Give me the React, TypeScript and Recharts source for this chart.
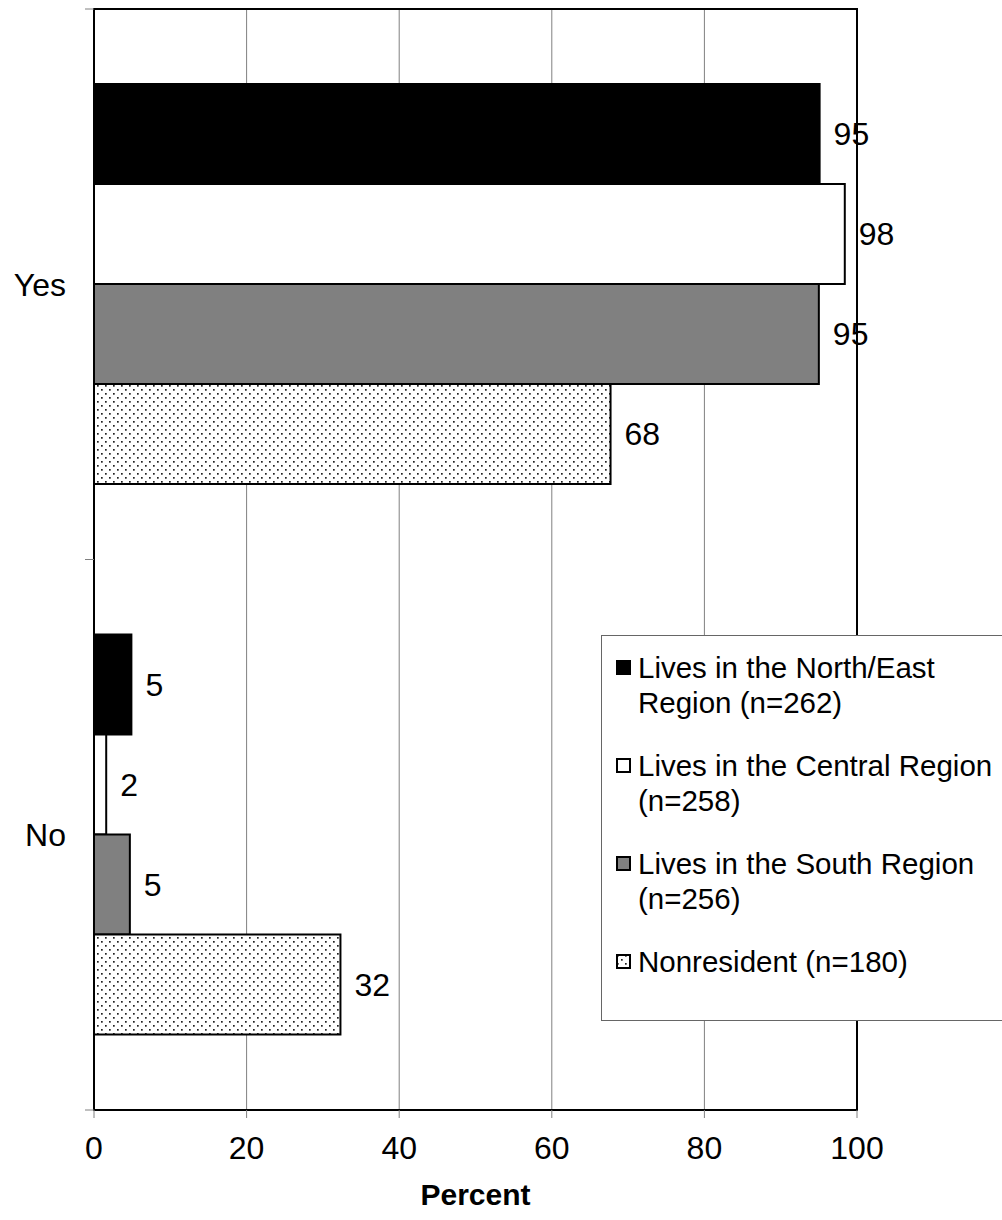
import React from "react"
import {
  BarChart,
  Bar,
  XAxis,
  YAxis,
  CartesianGrid,
  Legend,
  LabelList,
  ReferenceArea,
} from "recharts"

const categories = ["Yes", "No"]
const northEast = [95.1, 4.9]
const central = [98.4, 1.6]
const south = [95.0, 4.7]
const nonresident = [67.7, 32.3]
const xTicks = [0, 20, 40, 60, 80, 100]

const seriesNames = [
  "Lives in the North/East Region (n=262)",
  "Lives in the Central Region (n=258)",
  "Lives in the South Region (n=256)",
  "Nonresident (n=180)",
]

const data = categories.map((category, i) => ({
  category,
  northEast: northEast[i],
  central: central[i],
  south: south[i],
  nonresident: nonresident[i],
}))

const FONT = '"Liberation Sans", Arial, sans-serif'
const PLOT_LEFT = 94
const PLOT_TOP = 9
const PLOT_BOTTOM = 1110
const HALF_BAND = (PLOT_BOTTOM - PLOT_TOP) / 4

const seriesStyle = [
  { key: "northEast", fill: "#000000" },
  { key: "central", fill: "#ffffff" },
  { key: "south", fill: "#808080" },
  { key: "nonresident", fill: "url(#dots)" },
]

const CategoryTick = (props: any) => {
  const { y, payload } = props
  return (
    <g>
      <text x={PLOT_LEFT - 28} y={y} dy="0.36em" textAnchor="end" fontSize={32} fill="#000" fontFamily={FONT}>
        {payload.value}
      </text>
      <line x1={PLOT_LEFT - 9} x2={PLOT_LEFT} y1={y - HALF_BAND} y2={y - HALF_BAND} stroke="#808080" />
      <line x1={PLOT_LEFT - 9} x2={PLOT_LEFT} y1={y + HALF_BAND} y2={y + HALF_BAND} stroke="#808080" />
    </g>
  )
}

const LegendBox = () => (
  <div
    style={{
      border: "1.5px solid #666",
      background: "#fff",
      width: 420,
      height: 386,
      boxSizing: "border-box",
      padding: "14px 0 0 14px",
      fontFamily: FONT,
      fontSize: 29.5,
      color: "#000",
    }}
  >
    {seriesNames.map((name, i) => (
      <div key={name} style={{ display: "flex", alignItems: "flex-start", marginBottom: 28 }}>
        <svg width={15} height={15} style={{ marginTop: 10, marginRight: 7, flex: "none" }}>
          <rect x={1} y={1} width={13} height={13} fill={seriesStyle[i].fill} stroke="#000" strokeWidth={2} />
        </svg>
        <div style={{ width: 364, lineHeight: "35px" }}>{name}</div>
      </div>
    ))}
  </div>
)

export default function App() {
  return (
    <div style={{ position: "absolute", left: 0, top: 0, width: 1002, height: 1220, overflow: "hidden", background: "#fff" }}>
      <svg width={0} height={0} style={{ position: "absolute" }}>
        <defs>
          <pattern id="dots" width={8} height={8} patternUnits="userSpaceOnUse">
            <rect width={8} height={8} fill="#ffffff" />
            <rect x={1} y={1} width={1.7} height={1.7} fill="#222" />
            <rect x={5} y={5} width={1.7} height={1.7} fill="#222" />
          </pattern>
        </defs>
      </svg>
      <BarChart
        width={1002}
        height={1220}
        data={data}
        layout="vertical"
        barGap={0}
        margin={{ top: PLOT_TOP, right: 145, bottom: 0, left: 0 }}
        style={{ fontFamily: FONT }}
      >
        <CartesianGrid horizontal={false} stroke="#808080" />
        <XAxis
          type="number"
          domain={[0, 100]}
          ticks={xTicks}
          height={110}
          axisLine={false}
          tickSize={8}
          tickMargin={18}
          tickLine={{ stroke: "#808080" }}
          tick={{ fill: "#000", fontSize: 32, fontFamily: FONT }}
          label={{ value: "Percent", position: "insideBottom", offset: 15, fill: "#000", fontSize: 30, fontWeight: "bold", fontFamily: FONT }}
        />
        <YAxis
          type="category"
          dataKey="category"
          width={PLOT_LEFT}
          axisLine={false}
          tickLine={false}
          tick={<CategoryTick />}
        />
        <Legend
          layout="vertical"
          align="center"
          verticalAlign="middle"
          wrapperStyle={{ left: 601, top: 635, width: 420, height: 386 }}
          content={() => <LegendBox />}
        />
        {seriesStyle.map((s, i) => (
          <Bar
            key={s.key}
            dataKey={s.key}
            name={seriesNames[i]}
            fill={s.fill}
            stroke="#000"
            strokeWidth={2}
            barSize={100}
            isAnimationActive={false}
          >
            <LabelList
              dataKey={s.key}
              position="right"
              offset={14}
              formatter={(v: any) => Math.round(Number(v))}
              fill="#000"
              fontSize={32}
              fontFamily={FONT}
            />
          </Bar>
        ))}
        <ReferenceArea x1={0} x2={100} fill="none" stroke="#000" strokeWidth={2} ifOverflow="visible" />
      </BarChart>
    </div>
  )
}
